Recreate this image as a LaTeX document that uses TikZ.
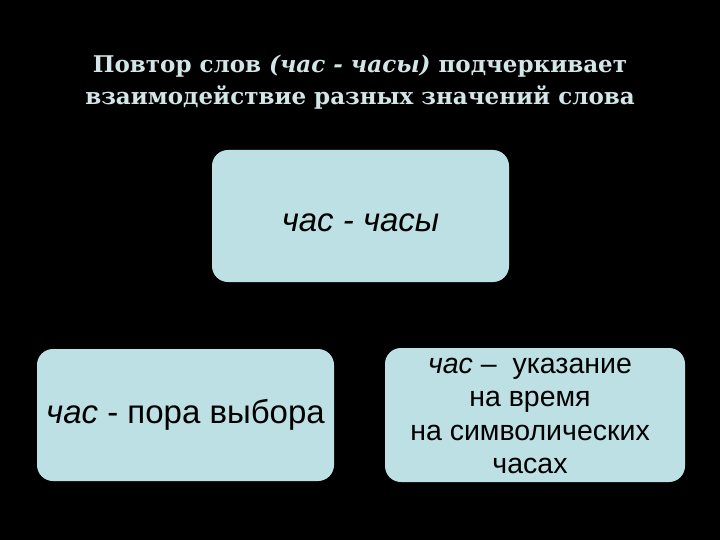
\documentclass[tikz,border=0pt]{standalone}
\usepackage{fontspec}
\setmainfont{Liberation Sans}
\newfontfamily\headfont{DejaVu Serif}
\definecolor{boxfill}{HTML}{BDE0E4}
\definecolor{headcol}{HTML}{D2E6E8}
\begin{document}
\begin{tikzpicture}[x=1pt,y=-1pt,
 meaning/.style={fill=boxfill,rounded corners=16pt,minimum width=297pt,minimum height=132pt,inner sep=0pt},
 inside/.style={text=black,align=center,inner sep=0pt}]
 \fill[black] (0,0) rectangle (720,540);
 \node[text=headcol,align=center,font=\headfont\bfseries\fontsize{23}{32}\selectfont] (head) at (360,82) {Повтор слов \textit{(час - часы)} подчеркивает\\взаимодействие разных значений слова};
 \node[meaning] (word) at (360.5,216) {};
 \node[meaning] (choice) at (185.5,415) {};
 \node[meaning,minimum width=300pt,minimum height=134pt] (clock) at (535,415) {};
 \node[inside,font=\fontsize{33}{38}\selectfont] (wordtext) at ([yshift=-7pt]word) {\textit{час - часы}};
 \node[inside,font=\fontsize{33}{38}\selectfont] (choicetext) at (choice) {\textit{час} - пора выбора};
 \node[inside,font=\fontsize{28.5}{33.3}\selectfont] (clocktext) at ([xshift=-5pt,yshift=-1pt]clock) {\textit{час} –~ указание\\на время\\на символических\\часах};
\end{tikzpicture}
\end{document}
